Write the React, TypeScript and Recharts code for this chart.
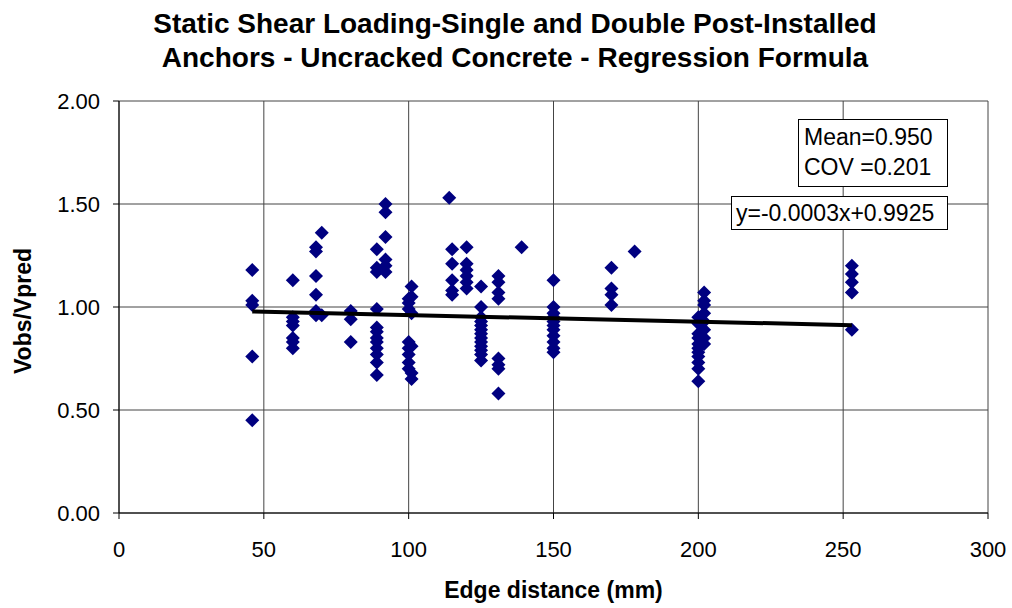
import React from 'react';
import { ScatterChart, Scatter, XAxis, YAxis, CartesianGrid } from 'recharts';

// edge distance (mm) for each column of test points
const edgeDistances = [46, 60, 68, 70, 80, 89, 92, 100, 101, 114, 115, 120, 125, 131, 139, 150, 170, 178, 200, 202, 253];

const ratios: number[][] = [
  [1.18, 1.03, 1.01, 0.76, 0.45],
  [1.13, 0.95, 0.93, 0.91, 0.85, 0.83, 0.80],
  [1.29, 1.27, 1.15, 1.06, 0.98, 0.96],
  [1.36, 0.96],
  [0.98, 0.94, 0.83],
  [1.28, 1.19, 1.17, 0.99, 0.90, 0.88, 0.85, 0.83, 0.80, 0.77, 0.73, 0.67],
  [1.50, 1.46, 1.34, 1.23, 1.20, 1.17],
  [1.04, 1.02, 0.99, 0.83, 0.80, 0.77, 0.73, 0.70],
  [1.10, 1.05, 0.97, 0.81, 0.68, 0.65],
  [1.53],
  [1.28, 1.21, 1.13, 1.08, 1.06],
  [1.29, 1.21, 1.18, 1.15, 1.12, 1.09],
  [1.10, 1.00, 0.95, 0.93, 0.91, 0.89, 0.87, 0.85, 0.83, 0.81, 0.79, 0.77, 0.74],
  [1.15, 1.12, 1.07, 1.04, 0.75, 0.72, 0.70, 0.58],
  [1.29],
  [1.13, 1.00, 0.97, 0.95, 0.93, 0.91, 0.89, 0.86, 0.83, 0.80, 0.78],
  [1.19, 1.09, 1.06, 1.01],
  [1.27],
  [0.95, 0.92, 0.87, 0.85, 0.82, 0.80, 0.78, 0.76, 0.73, 0.70, 0.64],
  [1.07, 1.03, 1.01, 0.97, 0.93, 0.89, 0.85, 0.82],
  [1.20, 1.16, 1.12, 1.07, 0.89],
];

// regression line end points
const trendX = [46, 253];
const trendY = [0.978, 0.912];

const xTicks = [0, 50, 100, 150, 200, 250, 300];
const yTicks = [0, 0.5, 1.0, 1.5, 2.0];

const points = edgeDistances.flatMap((x, i) => ratios[i].map((y) => ({ x, y })));
const trend = trendX.map((x, i) => ({ x, y: trendY[i] }));

const font = '"Liberation Sans", Arial, sans-serif';

const Diamond = (props: any) => {
  const { cx, cy } = props;
  const r = 7;
  return <polygon points={`${cx},${cy - r} ${cx + r},${cy} ${cx},${cy + r} ${cx - r},${cy}`} fill="#000080" />;
};

export default function App() {
  return (
    <div style={{ position: 'absolute', left: 0, top: 0, width: 1012, height: 608, background: '#fff', fontFamily: font }}>
      <ScatterChart width={1012} height={608} margin={{ top: 101, right: 24, bottom: 0, left: 0 }}>
        <CartesianGrid stroke="#444" strokeWidth={1} horizontal vertical />
        <XAxis
          type="number"
          dataKey="x"
          domain={[0, 300]}
          ticks={xTicks}
          height={95}
          axisLine={{ stroke: '#000' }}
          tickLine={{ stroke: '#000' }}
          tickSize={6}
          tickMargin={22}
          tick={{ fill: '#000', fontSize: 22, fontFamily: font }}
        />
        <YAxis
          type="number"
          dataKey="y"
          domain={[0, 2]}
          ticks={yTicks}
          width={119}
          axisLine={{ stroke: '#000' }}
          tickLine={{ stroke: '#000' }}
          tickSize={6}
          tickMargin={13}
          tickFormatter={(v: number) => v.toFixed(2)}
          tick={{ fill: '#000', fontSize: 22, fontFamily: font }}
        />
        <Scatter data={points} shape={Diamond} isAnimationActive={false} />
        <Scatter
          data={trend}
          line={{ stroke: '#000', strokeWidth: 4 }}
          shape={() => <g />}
          isAnimationActive={false}
        />
      </ScatterChart>

      <div style={{ position: 'absolute', left: 0, width: 1030, top: 7, textAlign: 'center', fontWeight: 'bold', fontSize: 28, lineHeight: '34px' }}>
        Static Shear Loading-Single and Double Post-Installed
        <br />
        Anchors - Uncracked Concrete - Regression Formula
      </div>

      <div style={{ position: 'absolute', left: 119, width: 869, top: 577, textAlign: 'center', fontWeight: 'bold', fontSize: 23 }}>
        Edge distance (mm)
      </div>

      <div
        style={{
          position: 'absolute', left: 23, top: 311, fontWeight: 'bold', fontSize: 23,
          transform: 'translate(-50%, -50%) rotate(-90deg)', whiteSpace: 'nowrap',
        }}
      >
        Vobs/Vpred
      </div>

      <div style={{ position: 'absolute', left: 798, top: 119, width: 150, height: 68, border: '1px solid #000', background: '#fff', fontSize: 23, lineHeight: '30px', padding: '2px 0 0 5px', boxSizing: 'border-box' }}>
        Mean=0.950
        <br />
        COV =0.201
      </div>

      <div style={{ position: 'absolute', left: 731, top: 196, width: 217, height: 34, border: '1px solid #000', background: '#fff', fontSize: 23, lineHeight: '32px', paddingLeft: 4, boxSizing: 'border-box', whiteSpace: 'nowrap' }}>
        y=-0.0003x+0.9925
      </div>
    </div>
  );
}
